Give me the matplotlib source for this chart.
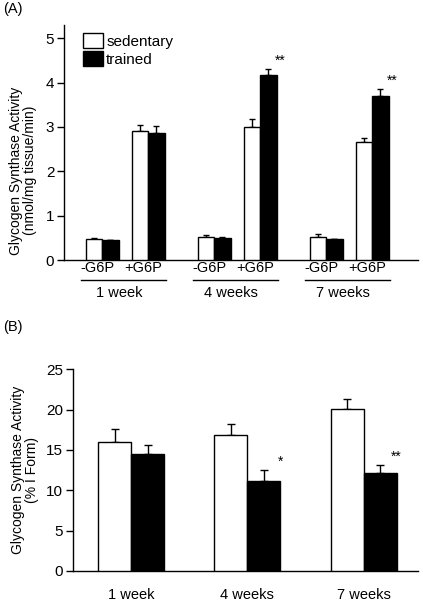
import matplotlib
matplotlib.use("Agg")
import matplotlib.pyplot as plt
from matplotlib.transforms import blended_transform_factory
from matplotlib.patches import Patch

plt.rcParams['font.family'] = ['Liberation Sans', 'DejaVu Sans']

# ---------------- data ----------------
weeks = ["1 week", "4 weeks", "7 weeks"]
conditions = ["-G6P", "+G6P"]
series = ["sedentary", "trained"]

# Panel A: activity (nmol/mg tissue/min)
a_sed_minus = [0.48, 0.51, 0.53]
a_sed_minus_err = [0.02, 0.05, 0.05]
a_tr_minus = [0.45, 0.50, 0.47]
a_tr_minus_err = [0.0, 0.03, 0.01]
a_sed_plus = [2.92, 2.99, 2.66]
a_sed_plus_err = [0.13, 0.20, 0.10]
a_tr_plus = [2.86, 4.18, 3.69]
a_tr_plus_err = [0.17, 0.13, 0.17]
a_sig = ["", "**", "**"]

# Panel B: % I form
b_sed = [16.0, 16.9, 20.1]
b_sed_err = [1.6, 1.3, 1.2]
b_tr = [14.5, 11.2, 12.1]
b_tr_err = [1.1, 1.3, 1.0]
b_sig = ["", "*", "**"]

yticks_a = [0, 1, 2, 3, 4, 5]
yticks_b = [0, 5, 10, 15, 20, 25]

# ---------------- figure ----------------
W, H = 423, 601
fig = plt.figure(figsize=(W / 100, H / 100), dpi=100)

FS = 10.5
LW = 1.0

def style_axes(ax):
    for s in ["top", "right"]:
        ax.spines[s].set_visible(False)
    ax.spines["left"].set_linewidth(LW)
    ax.spines["bottom"].set_linewidth(LW)
    ax.tick_params(axis="y", direction="out", length=5, width=LW, labelsize=FS + 0.5, pad=2)
    ax.tick_params(axis="x", length=0)
    ax.set_xticks([])

# ---- Panel A ----
axA = fig.add_axes([64 / W, 1 - 260 / H, (418 - 64) / W, (260 - 25) / H])
style_axes(axA)
axA.set_xlim(64, 418)
axA.set_ylim(0, 5.3)
axA.set_yticks(yticks_a)

g0, gstep, cstep, bw = 102, 112, 46, 16.5
ekw = dict(ecolor="black", elinewidth=LW, capthick=LW)
for g in range(3):
    for c, (sv, se, tv, te) in enumerate([
        (a_sed_minus, a_sed_minus_err, a_tr_minus, a_tr_minus_err),
        (a_sed_plus, a_sed_plus_err, a_tr_plus, a_tr_plus_err),
    ]):
        xc = g0 + g * gstep + c * cstep
        axA.bar(xc - bw / 2, sv[g], bw, color="white", edgecolor="black", linewidth=LW, zorder=3)
        axA.errorbar(xc - bw / 2, sv[g], yerr=[[0], [se[g]]], fmt="none", capsize=2.2, zorder=2, **ekw)
        axA.bar(xc + bw / 2, tv[g], bw, color="black", edgecolor="black", linewidth=LW, zorder=3)
        axA.errorbar(xc + bw / 2, tv[g], yerr=[[0], [te[g]]], fmt="none", capsize=2.2, zorder=2, **ekw)
    if a_sig[g]:
        xs = g0 + g * gstep + cstep + bw / 2 + 12
        axA.text(xs, a_tr_plus[g] + a_tr_plus_err[g] + 0.02, a_sig[g], ha="center",
                 va="bottom", fontsize=10)

transA = blended_transform_factory(axA.transData, fig.transFigure)
for g in range(3):
    for c, lab in enumerate(conditions):
        xc = g0 + g * gstep + c * cstep - 5
        fig.text(xc, 1 - 268 / H, lab, ha="center", va="center", fontsize=FS, transform=transA)
    gc = g0 + g * gstep + cstep / 2
    fig.add_artist(plt.Line2D([gc - 44, gc + 41], [1 - 280 / H] * 2, color="black",
                              linewidth=LW, transform=transA))
    fig.text(gc - 6, 1 - 293 / H, weeks[g], ha="center", va="center", fontsize=FS, transform=transA)

axA.set_ylabel("Glycogen Synthase Activity\n(nmol/mg tissue/min)", fontsize=10, labelpad=3,
               linespacing=1.0)
axA.yaxis.set_label_coords(-0.075, 0.38)

leg = axA.legend(handles=[Patch(facecolor="white", edgecolor="black", linewidth=LW),
                          Patch(facecolor="black", edgecolor="black", linewidth=LW)],
                 labels=series, loc="upper left", bbox_to_anchor=(0.035, 0.99), frameon=False,
                 fontsize=FS + 0.5, handlelength=1.35, handleheight=1.1, handletextpad=0.2,
                 labelspacing=0.15, borderaxespad=0)

fig.text(3 / W, 1 - 2 / H, "(A)", ha="left", va="top", fontsize=FS)

# ---- Panel B ----
axB = fig.add_axes([73 / W, 1 - 571 / H, (418 - 73) / W, (571 - 369.3) / H])
style_axes(axB)
axB.set_xlim(73, 418)
axB.set_ylim(0, 25)
axB.set_yticks(yticks_b)

b0, bstep, bwB = 131, 116.25, 33
for g in range(3):
    xc = b0 + g * bstep
    axB.bar(xc - bwB / 2, b_sed[g], bwB, color="white", edgecolor="black", linewidth=LW, zorder=3)
    axB.errorbar(xc - bwB / 2, b_sed[g], yerr=[[0], [b_sed_err[g]]], fmt="none", capsize=3, zorder=2, **ekw)
    axB.bar(xc + bwB / 2, b_tr[g], bwB, color="black", edgecolor="black", linewidth=LW, zorder=3)
    axB.errorbar(xc + bwB / 2, b_tr[g], yerr=[[0], [b_tr_err[g]]], fmt="none", capsize=3, zorder=2, **ekw)
    if b_sig[g]:
        axB.text(xc + bwB, b_tr[g] + b_tr_err[g] + 0.2, b_sig[g], ha="center", va="bottom",
                 fontsize=10)

transB = blended_transform_factory(axB.transData, fig.transFigure)
for g in range(3):
    fig.text(b0 + g * bstep, 1 - 595 / H, weeks[g], ha="center", va="center", fontsize=FS,
             transform=transB)

axB.set_ylabel("Glycogen Synthase Activity\n(% I Form)", fontsize=10, labelpad=3, linespacing=1.0)
axB.yaxis.set_label_coords(-0.10, 0.5)

fig.text(3 / W, 1 - 320 / H, "(B)", ha="left", va="top", fontsize=FS)

fig.savefig("out.png", dpi=100)
